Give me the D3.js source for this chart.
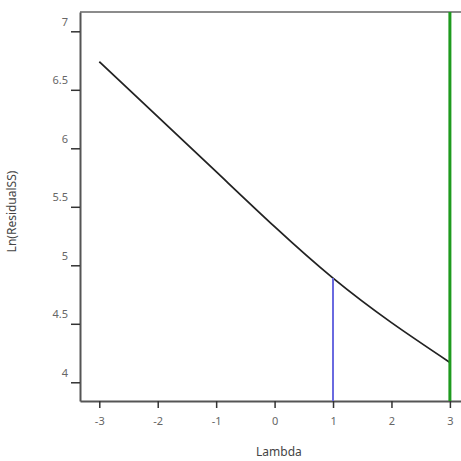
<!DOCTYPE html>
<html>
<head>
<meta charset="utf-8">
<script src="https://cdn.jsdelivr.net/npm/d3@7"></script>
<style>
  body { margin: 0; background: #fff; }
  text { font-family: "Noto Sans", "Open Sans", sans-serif; fill: #444; }
</style>
</head>
<body>
<svg id="chart"></svg>
<script>
// Box-Cox plot: ln(residual SS) against lambda
const lambdas = [-3, -2, -1, 0, 1, 2, 3];
const lnResidualSS = [6.74, 6.27, 5.80, 5.33, 4.89, 4.51, 4.17];
const xTicks = [-3, -2, -1, 0, 1, 2, 3];
const yTicks = [4, 4.5, 5, 5.5, 6, 6.5, 7];
const currentLambda = 1;   // blue line
const bestLambda = 3;      // green line

const width = 461, height = 461;
const margin = { left: 80, top: 12, right: 0, bottom: 60 };

const svg = d3.select("#chart")
  .attr("width", width)
  .attr("height", height);

const x = d3.scaleLinear()
  .domain([-3.33, 3.19])
  .range([margin.left, width - margin.right]);

const y = d3.scaleLinear()
  .domain([3.84, 7.165])
  .range([height - margin.bottom, margin.top]);

// plain hyphen minus, no trailing zeros
const fmt = d => String(d);

// Frame: top border
svg.append("line")
  .attr("x1", x.range()[0]).attr("x2", x.range()[1])
  .attr("y1", margin.top).attr("y2", margin.top)
  .attr("stroke", "#666").attr("stroke-width", 1.5);

// Y axis
const yAxis = svg.append("g")
  .attr("transform", `translate(${margin.left},0)`)
  .call(d3.axisLeft(y).tickValues(yTicks).tickSize(9).tickSizeOuter(0).tickFormat(fmt));
yAxis.select(".domain").attr("stroke", "#555").attr("stroke-width", 2);
yAxis.selectAll(".tick line").attr("stroke", "#333").attr("stroke-width", 1.5);
yAxis.selectAll(".tick text")
  .attr("x", -12).attr("dy", "-0.55em")
  .style("font-size", "11px").style("fill", "#666");

// X axis
const xAxis = svg.append("g")
  .attr("transform", `translate(0,${height - margin.bottom})`)
  .call(d3.axisBottom(x).tickValues(xTicks).tickSize(7).tickSizeOuter(0).tickFormat(fmt));
xAxis.select(".domain").attr("stroke", "#555").attr("stroke-width", 2);
xAxis.selectAll(".tick line").attr("stroke", "#333").attr("stroke-width", 1.5);
xAxis.selectAll(".tick text")
  .attr("y", 16)
  .style("font-size", "11px").style("fill", "#666");

// Axis titles
svg.append("text")
  .attr("x", (x.range()[0] + x(3)) / 2 + 14)
  .attr("y", 456)
  .attr("text-anchor", "middle")
  .style("font-size", "12px")
  .text("Lambda");

svg.append("text")
  .attr("transform", `translate(16,${(margin.top + height - margin.bottom) / 2 + 5}) rotate(-90)`)
  .attr("text-anchor", "middle")
  .style("font-size", "12px")
  .text("Ln(ResidualSS)");

// Curve
const line = d3.line()
  .x((d, i) => x(lambdas[i]))
  .y(d => y(d))
  .curve(d3.curveNatural);

svg.append("path")
  .datum(lnResidualSS)
  .attr("d", line)
  .attr("fill", "none")
  .attr("stroke", "#222")
  .attr("stroke-width", 1.8);

// Current lambda marker (blue), from axis up to the curve
const curValue = lnResidualSS[lambdas.indexOf(currentLambda)];
svg.append("line")
  .attr("x1", x(currentLambda)).attr("x2", x(currentLambda))
  .attr("y1", y.range()[0]).attr("y2", y(curValue))
  .attr("stroke", "#6a6ae0").attr("stroke-width", 2);

// Best lambda marker (green), full height
svg.append("line")
  .attr("x1", x(bestLambda)).attr("x2", x(bestLambda))
  .attr("y1", y.range()[0]).attr("y2", margin.top)
  .attr("stroke", "#1e9a1e").attr("stroke-width", 3);
</script>
</body>
</html>
